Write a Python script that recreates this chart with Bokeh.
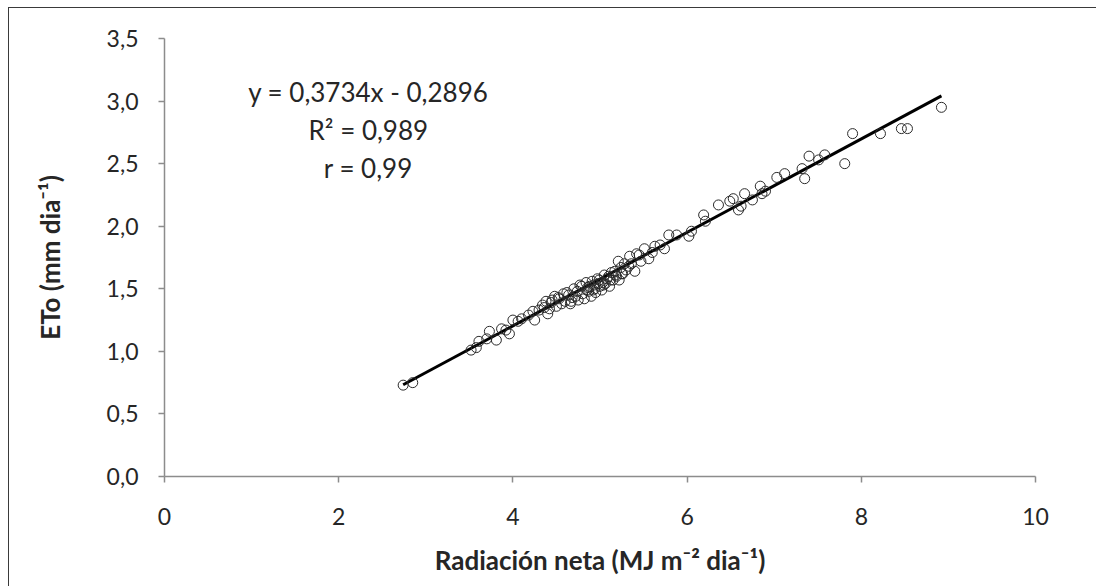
from bokeh.plotting import figure
from bokeh.models import Range1d, FixedTicker, CustomJSTickFormatter
from bokeh.embed import file_html
from bokeh.resources import INLINE
from bokeh.core.properties import value

# Data
rn = [2.74, 2.85, 3.52, 3.58, 3.61, 3.70, 3.73, 3.81, 3.87, 3.92, 3.96, 4.00, 4.06, 4.10,
      4.18, 4.23, 4.25, 4.30, 4.34, 4.38, 4.40, 4.42, 4.45, 4.48, 4.50, 4.53, 4.56, 4.58,
      4.60, 4.62, 4.64, 4.66, 4.67, 4.70, 4.72, 4.75, 4.77, 4.79, 4.80, 4.82, 4.84, 4.85,
      4.87, 4.88, 4.90, 4.91, 4.93, 4.94, 4.95, 4.97, 4.99, 5.00, 5.02, 5.03, 5.05, 5.06,
      5.08, 5.10, 5.11, 5.13, 5.15, 5.17, 5.19, 5.21, 5.22, 5.24, 5.26, 5.28, 5.30, 5.33,
      5.34, 5.36, 5.40, 5.42, 5.45, 5.47, 5.51, 5.56, 5.60, 5.63, 5.69, 5.74, 5.79, 5.88,
      6.02, 6.05, 6.19, 6.21, 6.36, 6.49, 6.53, 6.59, 6.62, 6.66, 6.75, 6.84, 6.86, 6.90,
      7.03, 7.12, 7.32, 7.35, 7.40, 7.51, 7.58, 7.81, 7.90, 8.22, 8.46, 8.53, 8.92,
      4.36, 4.44, 4.52, 4.68, 4.74, 4.86, 4.92, 4.98, 5.04, 5.12, 5.18, 5.25]
eto = [0.73, 0.75, 1.01, 1.03, 1.08, 1.10, 1.16, 1.09, 1.18, 1.17, 1.14, 1.25, 1.24, 1.26,
       1.29, 1.32, 1.25, 1.33, 1.37, 1.40, 1.30, 1.34, 1.41, 1.44, 1.36, 1.42, 1.38, 1.46,
       1.40, 1.47, 1.45, 1.38, 1.40, 1.50, 1.44, 1.41, 1.53, 1.52, 1.46, 1.42, 1.55, 1.49,
       1.48, 1.52, 1.44, 1.56, 1.53, 1.50, 1.47, 1.58, 1.57, 1.52, 1.49, 1.55, 1.61, 1.54,
       1.58, 1.60, 1.52, 1.63, 1.57, 1.64, 1.60, 1.72, 1.57, 1.67, 1.62, 1.70, 1.65, 1.68,
       1.76, 1.70, 1.64, 1.78, 1.77, 1.72, 1.82, 1.74, 1.79, 1.84, 1.85, 1.82, 1.93, 1.93,
       1.92, 1.96, 2.09, 2.04, 2.17, 2.20, 2.22, 2.13, 2.16, 2.26, 2.21, 2.32, 2.26, 2.28,
       2.39, 2.42, 2.46, 2.38, 2.56, 2.53, 2.57, 2.50, 2.74, 2.74, 2.78, 2.78, 2.95,
       1.35, 1.39, 1.43, 1.43, 1.48, 1.51, 1.49, 1.54, 1.53, 1.57, 1.61, 1.62]

slope = 0.3734
intercept = -0.2896
eq_lines = ["y = 0,3734x - 0,2896", "R² = 0,989", "r = 0,99"]
eq_y = [3.07, 2.765, 2.465]
x_ticks = [0, 2, 4, 6, 8, 10]
y_ticks = [0.0, 0.5, 1.0, 1.5, 2.0, 2.5, 3.0, 3.5]

FONT = "Lato"
TXT = "#262626"
AXC = "#8c8c8c"

p = figure(width=1088, height=579, output_backend="svg", toolbar_location=None,
           x_range=Range1d(0, 10), y_range=Range1d(0, 3.5),
           min_border_left=155, min_border_right=62, min_border_top=30, min_border_bottom=111)
p.margin = (7, 0, 0, 8)
p.styles = {"border-top": "1px solid #3a3a3a", "border-left": "1px solid #3a3a3a",
            "box-sizing": "border-box"}
p.background_fill_color = "white"
p.border_fill_color = "white"
p.outline_line_color = None
p.grid.visible = False

# regression line
x0, x1 = min(rn), max(rn)
p.line([x0, x1], [slope * x0 + intercept, slope * x1 + intercept], line_color="black", line_width=3)

p.scatter(rn, eto, marker="circle", size=10, fill_color=None, line_color="#2a2a2a", line_width=1)

# equation text
for t, yy in zip(eq_lines, eq_y):
    p.text(x=[2.34], y=[yy], text=[t], text_align="center", text_baseline="middle",
           text_font=value(FONT), text_font_size="26px", text_color=TXT)

fmt = CustomJSTickFormatter(code="return tick.toFixed(1).replace('.', ',');")

p.xaxis.ticker = FixedTicker(ticks=x_ticks)
p.yaxis.ticker = FixedTicker(ticks=y_ticks)
p.yaxis.formatter = fmt
for ax in (p.xaxis, p.yaxis):
    ax.axis_line_color = AXC
    ax.axis_line_width = 1.5
    ax.major_tick_line_color = AXC
    ax.major_tick_line_width = 1.5
    ax.major_tick_in = 0
    ax.major_tick_out = 6
    ax.minor_tick_line_color = None
    ax.major_label_text_font = FONT
    ax.major_label_text_font_size = "23px"
    ax.major_label_text_color = TXT
    ax.axis_label_text_font = FONT
    ax.axis_label_text_font_size = "26px"
    ax.axis_label_text_font_style = "bold"
    ax.axis_label_text_color = TXT

p.xaxis.axis_label = "Radiación neta (MJ m⁻² dia⁻¹)"
p.yaxis.axis_label = "ETo (mm dia⁻¹)"
p.xaxis.major_label_standoff = 25
p.xaxis.axis_label_standoff = 16
p.yaxis.major_label_standoff = 20
p.yaxis.axis_label_standoff = 38

open("out.html", "w").write(file_html(p, INLINE))
